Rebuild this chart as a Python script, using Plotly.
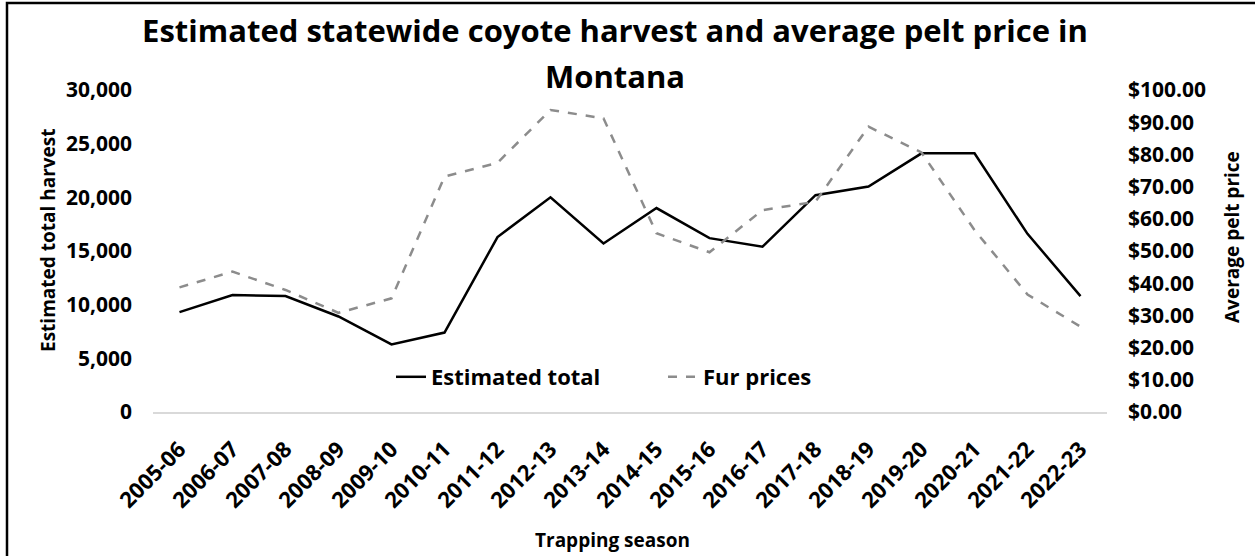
import plotly.graph_objects as go

seasons = ["2005-06", "2006-07", "2007-08", "2008-09", "2009-10", "2010-11",
           "2011-12", "2012-13", "2013-14", "2014-15", "2015-16", "2016-17",
           "2017-18", "2018-19", "2019-20", "2020-21", "2021-22", "2022-23"]
harvest = [9300, 10900, 10800, 8900, 6300, 7400, 16300, 20000, 15700, 19000,
           16200, 15400, 20200, 21000, 24100, 24100, 16600, 10800]
fur_prices = [38.7, 43.6, 37.9, 30.8, 35.3, 73.1, 77.4, 93.8, 91.2, 55.5,
              49.6, 62.7, 65.3, 88.6, 80.6, 56.5, 36.5, 26.5]

FONT = "Open Sans"

fig = go.Figure()
fig.add_trace(go.Scatter(x=seasons, y=harvest, name="Estimated total",
                         mode="lines", line=dict(color="black", width=2.5)))
fig.add_trace(go.Scatter(x=seasons, y=fur_prices, name="Fur prices", yaxis="y2",
                         mode="lines", line=dict(color="#8c8c8c", width=2.5, dash="dash")))

L, R, T, B = 153, 148, 90, 144
W, H = 1255, 556
pw, ph = W - L - R, H - T - B

def px(x):
    return (x - L) / pw

def py(y):
    return (H - B - y) / ph

fig.update_layout(
    width=W, height=H,
    margin=dict(l=L, r=R, t=T, b=B, autoexpand=False),
    paper_bgcolor="white", plot_bgcolor="white",
    font=dict(family=FONT, color="black"),
    title=dict(text="<b>Estimated statewide coyote harvest and average pelt price in</b>",
               x=615 / W, xanchor="center", y=1 - 31 / H, yanchor="middle",
               font=dict(size=31, family=FONT, color="black")),
    showlegend=True,
    legend=dict(orientation="h", x=px(391), xanchor="left", y=py(377), yanchor="middle",
                font=dict(size=22, family=FONT, color="black", weight="bold"),
                bgcolor="rgba(0,0,0,0)", entrywidth=227, entrywidthmode="pixels"),
    xaxis=dict(type="category", range=[-0.5, len(seasons) - 0.5], automargin=False,
               showgrid=False, zeroline=False, showline=True, linecolor="#d9d9d9", linewidth=1.5,
               tickangle=-45, tickfont=dict(size=22, family=FONT, color="black", weight="bold"),
               ticklabelstandoff=14),
    yaxis=dict(range=[0, 30000], dtick=5000, tickformat=",", showgrid=False, zeroline=False,
               automargin=False,
               tickfont=dict(size=21, family=FONT, color="black", weight="bold"), ticklabelstandoff=20),
    yaxis2=dict(range=[0, 100], dtick=10, tickprefix="$", tickformat=".2f", overlaying="y",
                side="right", showgrid=False, zeroline=False, automargin=False,
                tickfont=dict(size=21, family=FONT, color="black", weight="bold"), ticklabelstandoff=20),
)

fig.add_annotation(text="<b>Montana</b>", xref="paper", yref="paper",
                   x=px(615), y=py(76), xanchor="center", yanchor="middle",
                   showarrow=False, font=dict(size=31, family=FONT, color="black"))

# axis titles
fig.add_annotation(text="<b>Trapping season</b>", xref="paper", yref="paper",
                   x=px(612), y=py(540), xanchor="center", yanchor="middle",
                   showarrow=False, font=dict(size=19, family=FONT, color="black"))
fig.add_annotation(text="<b>Estimated total harvest</b>", xref="paper", yref="paper",
                   x=px(48), y=py(241), xanchor="center", yanchor="middle", textangle=-90,
                   showarrow=False, font=dict(size=19, family=FONT, color="black"))
fig.add_annotation(text="<b>Average pelt price</b>", xref="paper", yref="paper",
                   x=px(1232), y=py(237), xanchor="center", yanchor="middle", textangle=-90,
                   showarrow=False, font=dict(size=19, family=FONT, color="black"))

fig.add_shape(type="rect", xref="paper", yref="paper",
              x0=px(7), x1=px(1300), y0=py(600), y1=py(3),
              line=dict(color="black", width=2.5), fillcolor="rgba(0,0,0,0)", layer="above")

fig.write_html("out.html", config={"displayModeBar": False},
               post_script="document.body.style.margin='0px';")
